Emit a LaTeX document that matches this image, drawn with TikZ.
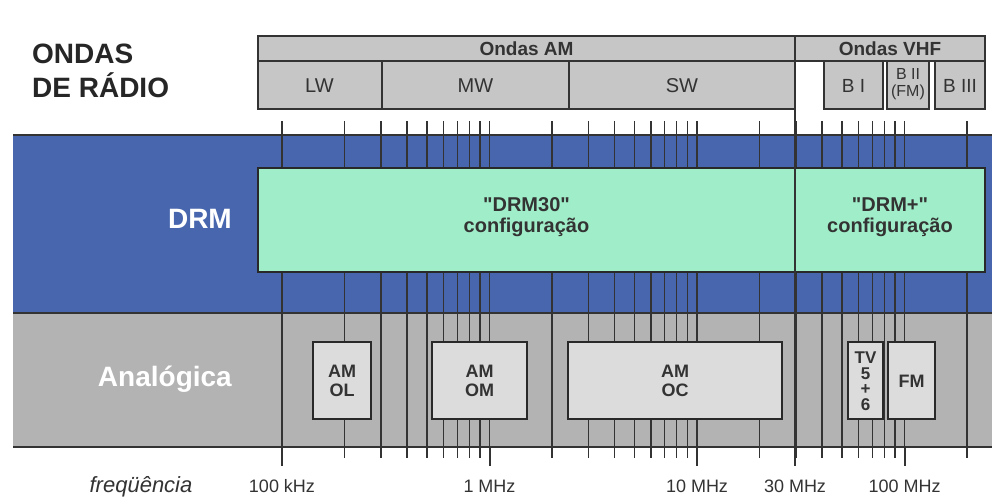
\documentclass[tikz,border=0pt]{standalone}
\usepackage{fontspec}
\setmainfont{Liberation Sans}
\newfontfamily\straightq{Liberation Sans}[Ligatures=TeXOff]
\usetikzlibrary{positioning}
\definecolor{hdrgray}{HTML}{C6C6C6}
\definecolor{drmblue}{HTML}{4866AE}
\definecolor{drmgreen}{HTML}{A0EEC9}
\definecolor{anagray}{HTML}{B3B3B3}
\definecolor{boxgray}{HTML}{DCDCDC}
\definecolor{ink}{HTML}{333333}
\newcommand{\fs}[2]{\fontsize{#1}{#2}\selectfont}
\newcommand{\qt}{{\straightq\bfseries"}}
\tikzset{
  hdrcell/.style={draw=ink,line width=1.3pt,fill=hdrgray},
  freqtick/.style={ink,line width=1.2pt},
  bandline/.style={ink,line width=2.5pt},
  cfgbox/.style={draw=ink!80!black,line width=2.2pt,fill=drmgreen},
  anabox/.style={draw=ink!80!black,line width=2.2pt,fill=boxgray},
  bigtitle/.style={font=\fs{28}{30}\bfseries,text=black!85,anchor=base west,inner sep=0pt},
  bandlabel/.style={font=\fs{28}{30}\bfseries,text=white,anchor=east,inner sep=0pt},
  boxtext/.style={text=ink,align=center,inner sep=0pt},
  freqlabel/.style={font=\fs{18}{18},text=ink,anchor=base,inner sep=0pt}
}
\begin{document}
\begin{tikzpicture}[x=1pt,y=-1pt]
  \useasboundingbox (0,0) rectangle (992,496);
  \fill[white] (0,0) rectangle (992,496);

  % title
  \node[bigtitle] (ondas) at (32,63) {ONDAS};
  \node[bigtitle] (radio) at (32,97) {DE RÁDIO};

  % band header: AM and VHF
  \draw[hdrcell] (258,36) rectangle (795,61);
  \draw[hdrcell] (258,61) rectangle (382,109);
  \draw[hdrcell] (382,61) rectangle (569,109);
  \draw[hdrcell] (569,61) rectangle (795,109);
  \draw[hdrcell] (795,36) rectangle (985,61);
  \draw[hdrcell] (824,61) rectangle (883,109);
  \draw[hdrcell] (887,61) rectangle (929,109);
  \draw[hdrcell] (935,61) rectangle (985,109);
  \node[font=\fs{19}{19}\bfseries,text=ink] (am) at (526.5,49) {Ondas AM};
  \node[font=\fs{19}{19}\bfseries,text=ink] (vhf) at (890,49) {Ondas VHF};
  \node[font=\fs{20}{20},text=ink] (lw) at (319.5,86) {LW};
  \node[font=\fs{20}{20},text=ink] (mw) at (475.5,86) {MW};
  \node[font=\fs{20}{20},text=ink] (sw) at (682,86) {SW};
  \node[font=\fs{19}{19},text=ink] (bi) at (853.5,86) {B I};
  \node[font=\fs{16}{17},text=ink,align=center,inner sep=0pt] (bii) at (908,84.5)
    {B II\\(FM)};
  \node[font=\fs{19}{19},text=ink] (biii) at (960,86) {B III};

  % DRM and analogue bands
  \fill[drmblue] (13,135) rectangle (992,313);
  \fill[anagray] (13,313) rectangle (992,447);

  % frequency ticks, log scale: one decade = 207.5
  \foreach \b in {282,489.5,697}
    \foreach \m in {1,...,9}
      \draw[freqtick] ({\b+207.5*log10(\m)},121) -- ++(0,337);
  \foreach \x in {904.5,967}
    \draw[freqtick] (\x,121) -- ++(0,337);
  \draw[freqtick] (282,458) -- (282,466);
  \foreach \x in {489.5,697,904.5}
    \draw[ink,line width=2pt] (\x,446) -- (\x,466);

  \draw[bandline] (13,135) -- (992,135);
  \draw[bandline] (13,313) -- (992,313);
  \draw[bandline] (13,447) -- (992,447);

  % DRM configurations
  \draw[cfgbox] (258,168) rectangle (795,272);
  \draw[cfgbox] (795,168) rectangle (985,272);
  \node[boxtext,font=\fs{20}{20}\bfseries] (drm30) at (526.5,217)
    {\qt DRM30\qt\\[1pt]configuração};
  \node[boxtext,font=\fs{20}{20}\bfseries] (drmplus) at (890,217)
    {\qt DRM+\qt\\[1pt]configuração};

  % analogue services
  \draw[anabox] (313,342) rectangle (371,419);
  \draw[anabox] (432,342) rectangle (527,419);
  \draw[anabox] (568,342) rectangle (782,419);
  \draw[anabox] (848,342) rectangle (883,419);
  \draw[anabox] (888,342) rectangle (935,419);
  \node[boxtext,font=\fs{18}{19}\bfseries] (amol) at (342,381) {AM\\OL};
  \node[boxtext,font=\fs{18}{19}\bfseries] (amom) at (479.5,381) {AM\\OM};
  \node[boxtext,font=\fs{18}{19}\bfseries] (amoc) at (675,381) {AM\\OC};
  \node[boxtext,font=\fs{17}{15.5}\bfseries] (tv) at (865.5,381) {TV\\5\\+\\6};
  \node[boxtext,font=\fs{18}{19}\bfseries] (fm) at (911.5,381) {FM};

  % band labels
  \node[bandlabel] (drm) at (232,219) {DRM};
  \node[bandlabel] (ana) at (232,379) {Analógica};

  % 30 MHz border between AM and VHF
  \draw[ink,line width=2.5pt] (795,36) -- (795,466);

  % frequency axis labels
  \node[freqlabel,font=\fs{22}{22}\itshape] (freq) at (141,492) {freqüência};
  \node[freqlabel] (f100k) at (282,492) {100 kHz};
  \node[freqlabel] (f1m) at (489.5,492) {1 MHz};
  \node[freqlabel] (f10m) at (697,492) {10 MHz};
  \node[freqlabel] (f30m) at (795,492) {30 MHz};
  \node[freqlabel] (f100m) at (904.5,492) {100 MHz};
\end{tikzpicture}
\end{document}
